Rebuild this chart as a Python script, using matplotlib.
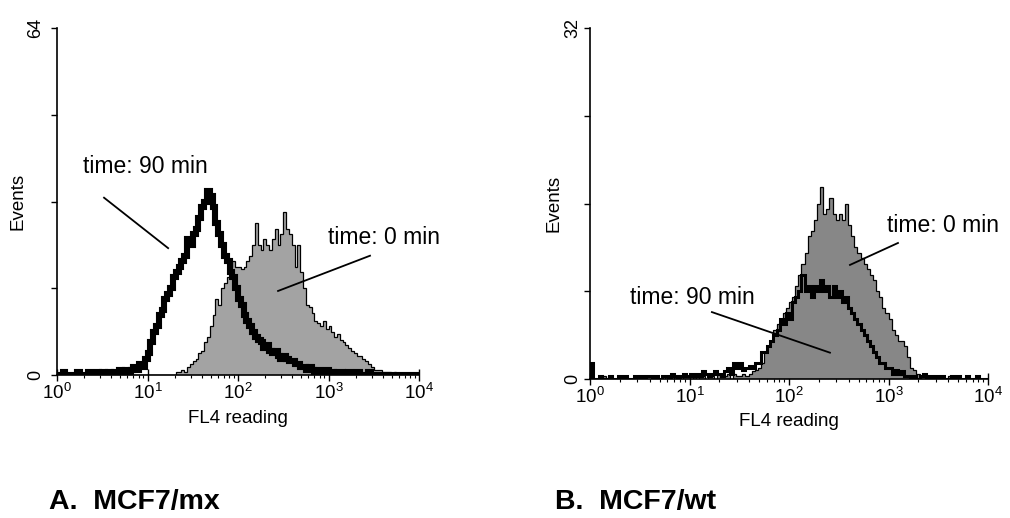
import numpy as np
import matplotlib
matplotlib.use("Agg")
import matplotlib.pyplot as plt
from matplotlib.ticker import LogLocator, NullFormatter, FixedLocator

plt.rcParams["font.family"] = ["Liberation Sans", "DejaVu Sans"]
plt.rcParams["mathtext.fontset"] = "custom"
plt.rcParams["mathtext.rm"] = "Liberation Sans"
plt.rcParams["mathtext.it"] = "Liberation Sans:italic"
plt.rcParams["mathtext.bf"] = "Liberation Sans:bold"

# FL4 channels: 32 bins per decade from 10^0 to 10^4
bins_per_decade = 32
decades = 4

# Panel A: MCF7/mx
mx_0min = [
    0, 0, 0, 0, 0, 0, 0, 0, 0, 0, 0, 0, 0, 0, 0, 0,
    0, 0, 0, 0, 0, 0, 0, 0, 0, 0, 0, 0, 0, 0, 0, 0,
    0, 0, 0, 0, 0, 0, 0, 0, 0, 0, 0.5, 0.5, 1, 0.5, 1.5, 2,
    2.5, 3, 4, 4.5, 6, 7, 9, 11, 14, 13, 16, 17, 18, 20, 21, 20,
    20, 19.5, 20, 21, 22, 24, 28, 24, 23, 25, 24, 23, 25, 27, 24, 26,
    30, 27, 26, 24, 20, 24, 19, 16, 13, 12.5, 11.5, 10, 9.5, 9, 10, 8.5,
    9, 8, 7, 7.5, 6.5, 6, 5.5, 5, 4.5, 4, 3.5, 3.5, 3, 2.5, 2, 1.5,
    1, 1, 1, 0.5, 0.5, 0.5, 0, 0.5, 0, 0, 0, 0, 0, 0, 0, 0,
]
mx_90min = [
    0, 0, 0.5, 0, 0, 0, 0, 0.5, 0, 0, 0, 0.5, 0, 0, 0.5, 0,
    0.5, 0, 0.5, 0, 0.5, 0.5, 1, 0.5, 1, 0.5, 1, 1.5, 1, 2, 1.5, 3,
    4, 6, 8, 9, 11, 12, 14, 15, 16, 18, 19, 20, 21, 22, 25, 24,
    26, 27, 29, 31, 32, 34, 33, 31, 28, 26, 24, 22, 21, 19, 18, 16,
    14, 13, 11, 10, 9, 8, 7, 6.5, 6, 5, 5.5, 4.5, 4, 4.5, 3.5, 3,
    3.5, 3, 2.5, 2.5, 2, 2, 1.5, 1.5, 1, 1.5, 1, 0.5, 1, 0.5, 0.5, 1,
    0.5, 0.5, 0, 0.5, 0.5, 0, 0, 0.5, 0, 0, 0.5, 0, 0, 0, 0.5, 0,
    0, 0, 0, 0, 0, 0, 0, 0, 0, 0, 0, 0, 0, 0, 0, 0,
]

# Panel B: MCF7/wt
wt_0min = [
    0.3, 0, 0, 0, 0.3, 0, 0, 0, 0, 0.3, 0, 0, 0, 0, 0.3, 0,
    0, 0.3, 0, 0, 0, 0.3, 0, 0, 0.3, 0, 0, 0.3, 0, 0, 0.3, 0.3,
    0, 0.3, 0, 0.3, 0.3, 0, 0.5, 0.3, 0, 0.5, 0.3, 0.3, 0.5, 0, 0.5, 0.3,
    0.3, 0.5, 0.3, 0.5, 0.7, 0.8, 1, 1.5, 2.5, 3, 3.5, 4.5, 5, 5.5, 6, 6.5,
    7, 7.5, 8.5, 9.5, 10.5, 11.5, 13, 13.5, 14.5, 16, 17.5, 15, 15.5, 16.5, 15, 14.5,
    15, 14.5, 16, 14, 13, 12, 11.5, 11, 10.5, 10, 9.5, 9, 8, 7.5, 6.5, 6,
    5.5, 4.5, 4, 3.5, 3.5, 3, 2, 1, 0.8, 0.5, 0.3, 0.5, 0.3, 0, 0.3, 0.3,
    0, 0.3, 0, 0.3, 0, 0.3, 0, 0, 0, 0, 0, 0, 0, 0, 0, 0,
]
wt_90min = [
    1.5, 0, 0, 0.3, 0, 0, 0.3, 0, 0, 0.3, 0, 0.3, 0, 0, 0.3, 0,
    0.3, 0, 0.3, 0.3, 0, 0.3, 0, 0.3, 0.3, 0, 0.5, 0.3, 0, 0.3, 0.5, 0.3,
    0.5, 0.3, 0.5, 0.3, 0.7, 0.5, 0.3, 0.5, 0.7, 0.5, 0.3, 0.7, 1, 0.5, 1.5, 1,
    1.5, 0.8, 1, 1.2, 1, 1.5, 1.5, 2.5, 2.5, 3, 3.5, 4, 4.5, 5.5, 5, 6,
    5.5, 7, 7.5, 8, 9.5, 8, 8.5, 7.5, 8.5, 8, 9, 8, 8.5, 7.5, 8.5, 7.5,
    8, 7, 7.5, 6.5, 6, 5.5, 5, 4.5, 4, 3.5, 3, 2.5, 2, 1.5, 1.5, 1,
    1, 0.5, 0.8, 0.5, 0.7, 0.3, 0.3, 0, 0.3, 0, 0.3, 0.5, 0, 0.3, 0, 0.3,
    0, 0.3, 0, 0, 0.3, 0, 0.3, 0, 0, 0.3, 0, 0, 0.3, 0, 0, 0,
]

x_ticks = [1, 10, 100, 1000, 10000]
x_ticklabels = [r"$\mathregular{10^{%d}}$" % k for k in range(5)]

edges = np.logspace(0, decades, bins_per_decade * decades + 1)

fig = plt.figure(figsize=(10.10, 5.18), dpi=100)
fig.patch.set_facecolor("white")

axA = fig.add_axes([57 / 1010, 1 - 375 / 518, 362 / 1010, 347 / 518])
axB = fig.add_axes([590 / 1010, 1 - 379 / 518, 398 / 1010, 351 / 518])


def style_axes(ax, ymax, label_pad, ylabel_x, xlabel_y):
    ax.set_xscale("log")
    ax.set_xlim(1, 1e4)
    ax.set_ylim(0, ymax)
    for side in ("top", "right"):
        ax.spines[side].set_visible(False)
    for side in ("left", "bottom"):
        ax.spines[side].set_linewidth(1.2)
    ax.set_xticks(x_ticks)
    ax.set_xticklabels(x_ticklabels, fontsize=13.5)
    ax.xaxis.set_minor_locator(LogLocator(base=10, subs=np.arange(2, 10), numticks=20))
    ax.xaxis.set_minor_formatter(NullFormatter())
    ax.tick_params(axis="x", which="major", direction="inout", length=8, width=1.0, pad=2)
    ax.tick_params(axis="x", which="minor", direction="out", length=2.5, width=0.8)
    yt = list(np.linspace(0, ymax, 5))
    ax.yaxis.set_major_locator(FixedLocator(yt))
    ax.set_yticklabels(["0", "", "", "", str(ymax)], fontsize=13)
    ax.tick_params(axis="y", which="major", direction="out", length=4, width=1.0, pad=label_pad)
    for lab in ax.get_yticklabels():
        lab.set_rotation(90)
        lab.set_va("center")
    ax.set_ylabel("Events", fontsize=13.5)
    ax.yaxis.set_label_coords(ylabel_x, 0.5)
    ax.set_xlabel("FL4 reading", fontsize=13.5)
    ax.xaxis.set_label_coords(0.5, xlabel_y)


# Panel A histograms
axA.stairs(mx_0min, edges, fill=True, color="#a3a3a3", zorder=2)
axA.stairs(mx_0min, edges, color="black", linewidth=0.9, zorder=3)
axA.stairs(mx_90min, edges, color="black", linewidth=4.4, zorder=4)
style_axes(axA, 64, 5, -0.083, -0.10)

# Panel B histograms
axB.stairs(wt_0min, edges, fill=True, color="#878787", zorder=2)
axB.stairs(wt_0min, edges, color="black", linewidth=0.9, zorder=3)
axB.stairs(wt_90min, edges, color="black", linewidth=2.2, zorder=4)
style_axes(axB, 32, 2, -0.068, -0.097)

# Curve labels with leader lines
label_kw = dict(fontsize=16.5, ha="left", va="center", color="black", zorder=6)
line_kw = dict(color="black", linewidth=1.3, clip_on=False, zorder=6)

axA.text(1.94, 38.4, "time: 90 min", **label_kw)
axA.plot([3.31, 16.9], [32.7, 23.4], **line_kw)
axA.text(986, 25.3, "time: 0 min", **label_kw)
axA.plot([2875, 277], [22.0, 15.5], **line_kw)

axB.text(966, 14.0, "time: 0 min", **label_kw)
axB.plot([1245, 410], [12.4, 10.4], **line_kw)
axB.text(2.52, 7.4, "time: 90 min", **label_kw)
axB.plot([16.8, 258], [6.1, 2.4], **line_kw)

# Panel captions
fig.text(49 / 1010, 1 - 502 / 518, "A.  MCF7/mx", fontsize=20.5, fontweight="bold",
         ha="left", va="center")
fig.text(555 / 1010, 1 - 502 / 518, "B.  MCF7/wt", fontsize=20.5, fontweight="bold",
         ha="left", va="center")

fig.savefig("out.png", dpi=100, facecolor="white")
